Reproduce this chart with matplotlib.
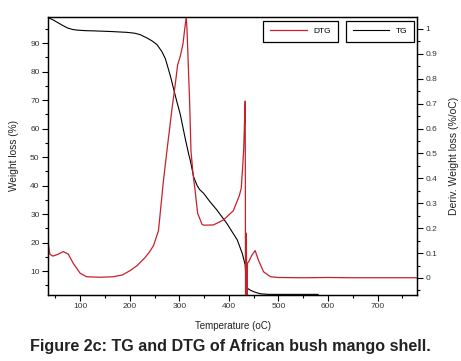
import matplotlib.pyplot as plt
from matplotlib.ticker import MultipleLocator

plt.rcParams['font.family'] = ['Liberation Sans', 'DejaVu Sans']

# TG curve (left axis, %)
tg_temp = [35, 45, 55, 65, 75, 85, 93, 110, 130, 161, 194, 210, 221, 235, 245,
           255, 265, 272, 282, 288, 295, 302, 312, 319, 322, 329, 336, 341, 349,
           362, 376, 396, 417, 427, 433, 435, 437, 443, 452, 464, 480, 520, 580]
tg_val = [99.0, 98.2, 97.2, 96.2, 95.3, 94.8, 94.6, 94.4, 94.3, 94.1, 93.8, 93.5,
          93.0, 91.8, 90.8, 89.5, 87.0, 84.5, 78.5, 74.3, 69.5, 65.0, 56.5, 51.0,
          49.0, 43.0, 40.0, 38.6, 37.3, 34.3, 31.4, 26.7, 20.9, 16.2, 12.1, 5.5,
          4.0, 3.3, 2.6, 2.0, 1.8, 1.8, 1.8]

# DTG curve (right axis, %/oC)
dtg_temp = [35, 37, 39, 45, 55, 66, 76, 86, 100, 113, 140, 167, 185, 201, 215,
            230, 240, 248, 258, 268, 275, 285, 292, 296.6, 302, 307.5, 310.7, 314,
            315.5, 320.8, 323.6, 327.6, 332, 337, 346, 350, 369, 389, 409, 421,
            425, 428, 430, 431.5, 433, 433.8, 435.3, 436.3, 437.5, 440, 446, 453,
            460, 470, 484, 500, 550, 600, 650, 700, 750, 780]
dtg_val = [0.145, 0.12, 0.095, 0.088, 0.095, 0.106, 0.096, 0.059, 0.019, 0.005,
           0.003, 0.005, 0.012, 0.03, 0.05, 0.08, 0.105, 0.13, 0.19, 0.39, 0.51,
           0.675, 0.78, 0.855, 0.89, 0.94, 0.996, 1.047, 1.0, 0.71, 0.51, 0.42,
           0.35, 0.26, 0.215, 0.212, 0.213, 0.233, 0.27, 0.33, 0.36, 0.45, 0.52,
           0.62, 0.71, -0.3, 0.18, -0.3, 0.06, 0.065, 0.09, 0.11, 0.07, 0.025,
           0.005, 0.002, 0.001, 0.002, 0.001, 0.001, 0.001, 0.001]

fig = plt.figure(figsize=(4.61, 3.61), dpi=100)
ax1 = fig.add_axes([0.104, 0.183, 0.801, 0.770])
ax2 = ax1.twinx()

ax1.plot(tg_temp, tg_val, color='black', lw=0.8, label='TG')
ax2.plot(dtg_temp, dtg_val, color='#c8202a', lw=0.9, label='DTG')

ax1.set_xlim(35, 780)
ax1.set_ylim(1.6, 99.2)
ax2.set_ylim(-0.068, 1.048)

ax1.xaxis.set_major_locator(MultipleLocator(100))
ax1.xaxis.set_minor_locator(MultipleLocator(50))
ax1.yaxis.set_major_locator(MultipleLocator(10))
ax1.yaxis.set_minor_locator(MultipleLocator(5))
ax2.yaxis.set_major_locator(MultipleLocator(0.1))
ax2.yaxis.set_minor_locator(MultipleLocator(0.05))
ax2.set_yticks([0, 0.1, 0.2, 0.3, 0.4, 0.5, 0.6, 0.7, 0.8, 0.9, 1.0])
ax2.set_yticklabels(['0', '0.1', '0.2', '0.3', '0.4', '0.5', '0.6', '0.7',
                     '0.8', '0.9', '1'])

for ax in (ax1, ax2):
    ax.tick_params(which='major', direction='out', length=4, width=0.8,
                   labelsize=6, pad=2, colors='black', labelcolor='#333333')
    ax.tick_params(which='minor', direction='out', length=2.5, width=0.8)
    for s in ax.spines.values():
        s.set_linewidth(0.9)

ax1.set_xlabel('Temperature (oC)', fontsize=7, labelpad=8, color='#222222')
ax1.set_ylabel('Weight loss (%)', fontsize=7.3, labelpad=8, color='#222222')
ax2.set_ylabel('Deriv. Weight loss (%/oC)', fontsize=7.5, labelpad=8,
               color='#222222')

leg_kw = dict(fontsize=6, loc='upper left', fancybox=False, framealpha=1,
              edgecolor='black', handlelength=4.4, handletextpad=0.8,
              borderpad=0.8, borderaxespad=0)
leg_dtg = ax2.legend(handles=ax2.get_lines(), bbox_to_anchor=(0.583, 0.986),
                     **leg_kw)
leg_dtg.get_frame().set_linewidth(0.9)
ax2.add_artist(leg_dtg)
leg_tg = ax2.legend(handles=ax1.get_lines(), bbox_to_anchor=(0.807, 0.987),
                    **leg_kw)
leg_tg.get_frame().set_linewidth(0.9)

fig.text(0.5, 0.039, 'Figure 2c: TG and DTG of African bush mango shell.',
         ha='center', va='center', fontsize=11.6, fontweight='bold',
         color='#222222')

fig.savefig('out.png', dpi=100)
